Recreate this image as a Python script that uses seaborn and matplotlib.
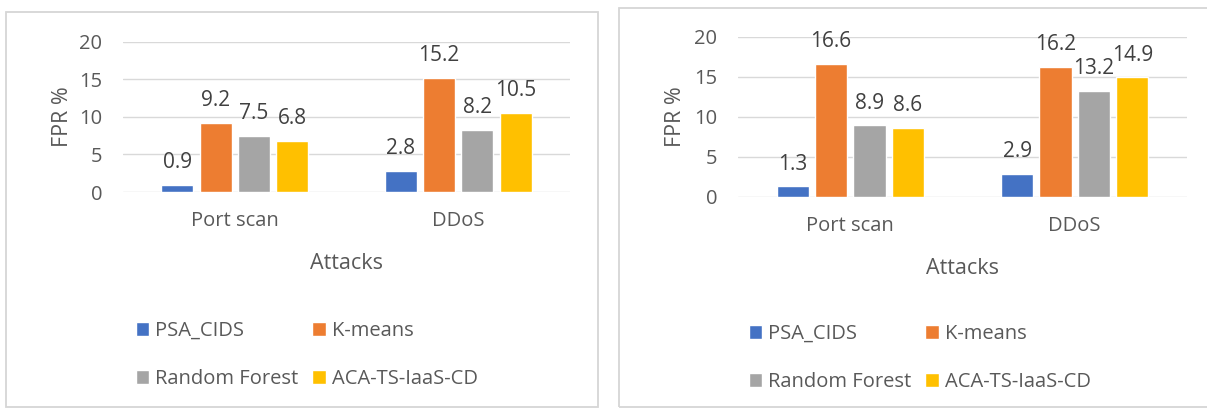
import matplotlib
matplotlib.use("Agg")
import matplotlib.pyplot as plt
import pandas as pd
import seaborn as sns
from matplotlib.patches import Rectangle

# Attack categories and detection methods
attacks = ["Port scan", "DDoS"]
methods = ["PSA_CIDS", "K-means", "Random Forest", "ACA-TS-IaaS-CD"]

# False positive rate (%) - first scenario
psa_cids_1 = [0.9, 2.8]
kmeans_1 = [9.2, 15.2]
random_forest_1 = [7.5, 8.2]
aca_ts_1 = [6.8, 10.5]

# False positive rate (%) - second scenario
psa_cids_2 = [1.3, 2.9]
kmeans_2 = [16.6, 16.2]
random_forest_2 = [8.9, 13.2]
aca_ts_2 = [8.6, 14.9]

y_ticks = [0, 5, 10, 15, 20]
colors = ["#4472C4", "#ED7D31", "#A5A5A5", "#FFC000"]

W, H = 1207, 408
sns.set_style("white")
plt.rcParams["font.family"] = ["Open Sans", "DejaVu Sans"]

TEXT = "#595959"
VALUE = "#404040"
GRID = "#D9D9D9"
FS_TICK = 14.5
FS_VAL = 15
FS_TITLE = 15.5
FS_LEG = 14.5


def long_table(series):
    rows = []
    for method, vals in zip(methods, series):
        for attack, v in zip(attacks, vals):
            rows.append({"Attacks": attack, "Method": method, "FPR": v})
    return pd.DataFrame(rows)


def px_axes(fig, x0, x1, ytop, ybot):
    return fig.add_axes([x0 / W, (H - ybot) / H, (x1 - x0) / W, (ybot - ytop) / H])


fig = plt.figure(figsize=(W / 100, H / 100), dpi=100)
fig.patch.set_facecolor("white")

# panel frames
fig.patches.append(Rectangle((6 / W, 1 / H), 592 / W, 395 / H, transform=fig.transFigure,
                             fill=False, edgecolor="#D6D6D6", linewidth=1.3))
fig.patches.append(Rectangle((619 / W, 1 / H), 600 / W, 399 / H, transform=fig.transFigure,
                             fill=False, edgecolor="#D6D6D6", linewidth=1.3))

panels = [
    dict(series=[psa_cids_1, kmeans_1, random_forest_1, aca_ts_1],
         box=(123, 570, 41.5, 192), ylab_x=-0.112, xlab_y=-0.405,
         leg=(136, 321)),
    dict(series=[psa_cids_2, kmeans_2, random_forest_2, aca_ts_2],
         box=(738, 1187, 36.5, 196.8), ylab_x=-0.116, xlab_y=-0.38,
         leg=(749, 324)),
]

for p in panels:
    ax = px_axes(fig, *p["box"])
    df = long_table(p["series"])
    sns.barplot(data=df, x="Attacks", y="FPR", hue="Method", order=attacks,
                hue_order=methods, palette=colors, width=0.685, gap=0.165,
                errorbar=None, saturation=1, ax=ax)
    leg = ax.get_legend()
    handles = list(leg.legend_handles)
    labels = [t.get_text() for t in leg.texts]
    leg.remove()

    for cont in ax.containers:
        ax.bar_label(cont, fmt="%.1f", padding=8.5, fontsize=FS_VAL, color=VALUE, clip_on=False)

    ax.set_ylim(0, 20)
    ax.set_yticks(y_ticks)
    ax.grid(axis="y", color=GRID, linewidth=1.0)
    ax.set_axisbelow(True)
    for s in ax.spines.values():
        s.set_visible(False)
    ax.tick_params(axis="y", length=0, pad=15, labelsize=FS_TICK, labelcolor=TEXT)
    ax.tick_params(axis="x", length=0, pad=13.5, labelsize=FS_TICK, labelcolor=TEXT)
    ax.set_ylabel("FPR %", fontsize=FS_TITLE, color=TEXT)
    ax.set_xlabel("Attacks", fontsize=FS_TITLE, color=TEXT)
    ax.yaxis.set_label_coords(p["ylab_x"], 0.5)
    ax.xaxis.set_label_coords(0.5, p["xlab_y"])

    # two rows: PSA_CIDS / K-means, Random Forest / ACA-TS-IaaS-CD
    order = [0, 2, 1, 3]
    lx, ly = p["leg"]
    ax.legend([handles[i] for i in order], [labels[i] for i in order], ncol=2,
              loc="upper left", bbox_to_anchor=(lx / W, (H - ly) / H),
              bbox_transform=fig.transFigure, frameon=False, fontsize=FS_LEG,
              handlelength=0.65, handleheight=0.65, handletextpad=0.3,
              columnspacing=0.7, labelspacing=1.4, borderpad=0, borderaxespad=0,
              labelcolor=TEXT)

fig.savefig("out.png", dpi=100, facecolor="white")
